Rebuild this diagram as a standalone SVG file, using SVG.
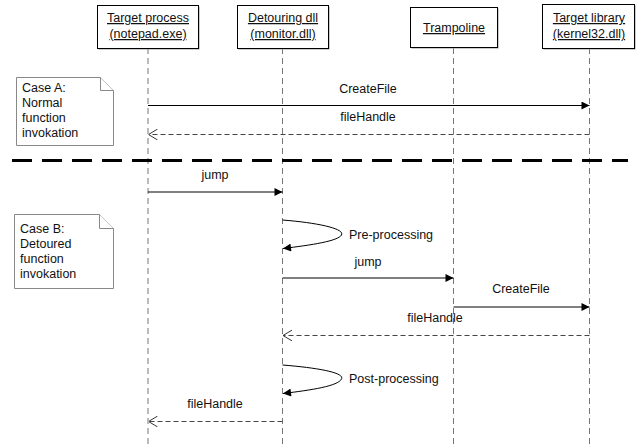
<svg xmlns="http://www.w3.org/2000/svg" width="640" height="445" viewBox="0 0 640 445">
  <defs>
    <marker id="filled" viewBox="0 0 10 10" refX="10" refY="5" markerWidth="9" markerHeight="8" markerUnits="userSpaceOnUse" orient="auto">
      <path d="M0,0 L10,5 L0,10 Z" fill="#000"/>
    </marker>
    <marker id="open" viewBox="0 0 10 12" refX="10" refY="6" markerWidth="9" markerHeight="11" markerUnits="userSpaceOnUse" orient="auto">
      <path d="M0,0 L10,6 L0,12" fill="none" stroke="#333" stroke-width="1.1"/>
    </marker>
  </defs>
  <style>
    text { font-family: "Liberation Sans", Arial, sans-serif; font-size: 12.5px; fill: #111; }
    .head text { text-anchor: middle; text-decoration: underline; }
    .box { fill: #fff; stroke: #000; stroke-width: 1; }
    .shadow { fill: #999; }
    .life { stroke: #777; stroke-width: 1; stroke-dasharray: 6 4; fill: none; }
    .msg { stroke: #000; stroke-width: 1; fill: none; marker-end: url(#filled); }
    .ret { stroke: #444; stroke-width: 1; stroke-dasharray: 5 3; fill: none; marker-end: url(#open); }
    .note { fill: #fff; stroke: #888; stroke-width: 1; }
    .sep { stroke: #000; stroke-width: 3; stroke-dasharray: 20 10; }
    .lbl { text-anchor: middle; }
  </style>

  <!-- lifelines -->
  <g id="lifelines">
    <line class="life" x1="148" y1="48" x2="148" y2="445"/>
    <line class="life" x1="282.5" y1="48" x2="282.5" y2="445"/>
    <line class="life" x1="453.5" y1="48" x2="453.5" y2="445"/>
    <line class="life" x1="589.5" y1="48" x2="589.5" y2="445"/>
  </g>

  <!-- participants -->
  <g id="target-process" class="head">
    <rect class="shadow" x="98.5" y="6.5" width="101" height="43"/>
    <rect class="box" x="97.5" y="5.5" width="101" height="43"/>
    <text x="148" y="22">Target process</text>
    <text x="148" y="38">(notepad.exe)</text>
  </g>
  <g id="detouring-dll" class="head">
    <rect class="shadow" x="238.5" y="6.5" width="91" height="43"/>
    <rect class="box" x="237.5" y="5.5" width="91" height="43"/>
    <text x="283" y="22">Detouring dll</text>
    <text x="283" y="38">(monitor.dll)</text>
  </g>
  <g id="trampoline" class="head">
    <rect class="shadow" x="411.5" y="8.5" width="87" height="40"/>
    <rect class="box" x="410.5" y="7.5" width="87" height="40"/>
    <text x="454" y="32">Trampoline</text>
  </g>
  <g id="target-library" class="head">
    <rect class="shadow" x="543.5" y="5.5" width="92" height="44"/>
    <rect class="box" x="542.5" y="4.5" width="92" height="44"/>
    <text x="589" y="22">Target library</text>
    <text x="589" y="38">(kernel32.dll)</text>
  </g>

  <!-- notes -->
  <g id="note-case-a">
    <path class="note" d="M16.5,77.5 H100.5 L113.5,90.5 V145.5 H16.5 Z"/>
    <path class="note" d="M100.5,77.5 V90.5 H113.5" fill="none"/>
    <text x="22" y="92">Case A:</text>
    <text x="22" y="107">Normal</text>
    <text x="22" y="122">function</text>
    <text x="22" y="137">invokation</text>
  </g>
  <g id="note-case-b">
    <path class="note" d="M14.5,214.5 H99.5 L113.5,228.5 V288.5 H14.5 Z"/>
    <path class="note" d="M99.5,214.5 V228.5 H113.5" fill="none"/>
    <text x="20" y="233">Case B:</text>
    <text x="20" y="248">Detoured</text>
    <text x="20" y="263">function</text>
    <text x="20" y="278">invokation</text>
  </g>

  <!-- separator between the two cases -->
  <line id="separator" class="sep" x1="12" y1="160.5" x2="628" y2="160.5"/>

  <!-- messages -->
  <g id="connectors">
    <line class="msg" x1="148" y1="105.5" x2="589.5" y2="105.5"/>
    <text class="lbl" x="368" y="93">CreateFile</text>

    <line class="ret" x1="589.5" y1="134.5" x2="148.5" y2="134.5"/>
    <text class="lbl" x="368" y="121">fileHandle</text>

    <line class="msg" x1="148" y1="192" x2="282.5" y2="192"/>
    <text class="lbl" x="215" y="179">jump</text>

    <path class="msg" d="M282.5,220 C320,223 345,229 341.5,235 C338,241 312,245 283,248.5"/>
    <text x="349" y="239">Pre-processing</text>

    <line class="msg" x1="282.5" y1="278" x2="453.5" y2="278"/>
    <text class="lbl" x="368" y="266">jump</text>

    <line class="msg" x1="453.5" y1="307" x2="589.5" y2="307"/>
    <text class="lbl" x="521" y="293">CreateFile</text>

    <line class="ret" x1="589.5" y1="335.5" x2="283" y2="335.5"/>
    <text class="lbl" x="435" y="322">fileHandle</text>

    <path class="msg" d="M282.5,365 C320,368 345,373 341.5,379 C338,386 312,390 283,393.5"/>
    <text x="349" y="383">Post-processing</text>

    <line class="ret" x1="282.5" y1="421.5" x2="148.5" y2="421.5"/>
    <text class="lbl" x="215" y="408">fileHandle</text>
  </g>
</svg>
